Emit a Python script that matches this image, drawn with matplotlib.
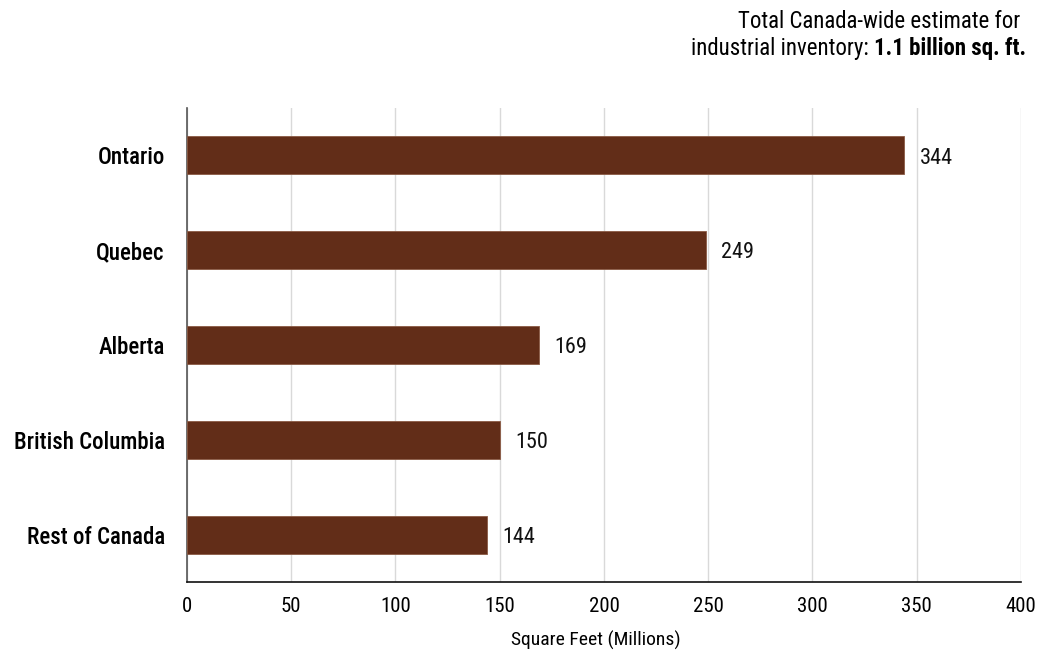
import matplotlib
matplotlib.use("Agg")
import matplotlib.pyplot as plt

# data (top to bottom as shown)
regions = ["Ontario", "Quebec", "Alberta", "British Columbia", "Rest of Canada"]
sq_ft = [344, 249, 169, 150, 144]
x_ticks = [0, 50, 100, 150, 200, 250, 300, 350, 400]

plt.rcParams['font.family'] = ['Roboto Condensed', 'DejaVu Sans']

bar_color = "#622d18"

fig = plt.figure(figsize=(10.4, 6.62), dpi=100)
ax = fig.add_axes([0.1798, 0.1208, 0.8019, 0.7161])

ypos = list(range(len(regions)))[::-1]
ax.barh(ypos, sq_ft, height=0.4, color=bar_color, edgecolor="#8a5a44", linewidth=0.6, zorder=3)

for y, v in zip(ypos, sq_ft):
    ax.annotate(str(v), (v, y), xytext=(11, -2), textcoords="offset points",
                ha="left", va="center", fontsize=16, color="#111111")

ax.set_xlim(0, 400)
ax.set_ylim(-0.5, 4.5)
ax.set_xticks(x_ticks)
ax.set_xticklabels([str(t) for t in x_ticks], fontsize=15)
ax.set_yticks(ypos)
ax.set_yticklabels(regions, fontsize=16.5, fontweight=500)
ax.tick_params(axis="both", length=0)
ax.tick_params(axis="x", pad=11)
ax.tick_params(axis="y", pad=16)

ax.grid(axis="x", color="#d9d9d9", linewidth=1, zorder=0)
for s in ["top", "right"]:
    ax.spines[s].set_visible(False)
ax.spines["left"].set_color("#555555")
ax.spines["bottom"].set_color("#111111")
ax.spines["left"].set_linewidth(1.2)
ax.spines["bottom"].set_linewidth(1.2)

fig.text(0.573, 0.018, "Square Feet (Millions)", ha="center", va="bottom", fontsize=14)

# note in the top right corner, with bold figure
fig.text(0.981, 0.968, "Total Canada-wide estimate for", ha="right", va="center", fontsize=16.5)
bold = fig.text(0.987, 0.926, "1.1 billion sq. ft.", ha="right", va="center",
                fontsize=16.5, fontweight="bold")
fig.canvas.draw()
bb = bold.get_window_extent()
fig.text(bb.x0 / fig.bbox.width, 0.926, "industrial inventory: ", ha="right", va="center", fontsize=16.5)

fig.savefig("out.png", dpi=100)
